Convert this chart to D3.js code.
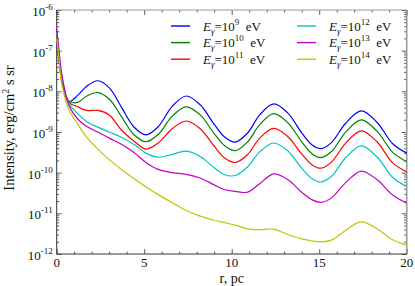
<!DOCTYPE html>
<html>
<head>
<meta charset="utf-8">
<script src="https://cdn.jsdelivr.net/npm/d3@7"></script>
<style>
  body { margin: 0; background: #fff; }
  svg text { font-family: 'Liberation Serif', 'DejaVu Serif', serif; fill: #111; }
</style>
</head>
<body>
<svg id="chart"></svg>
<script>
// radius in pc
const rValues = [0, 0.12, 0.3, 0.7, 1.2, 1.7, 2.35, 3.0, 3.7, 4.4, 5.1, 5.8, 6.6, 7.4, 8.2, 9.0, 9.6, 10.2, 10.9, 11.6, 12.4, 13.2, 14.0, 14.6, 15.1, 15.7, 16.5, 17.4, 18.3, 19.2, 20];

// log10 of intensity (erg/cm^2 s sr)
const logI_e9  = [-6.7, -7.2, -7.75, -8.25, -8.1, -7.88, -7.74, -7.91, -8.39, -8.87, -9.07, -8.87, -8.37, -8.115, -8.33, -8.81, -9.125, -9.25, -9.03, -8.58, -8.31, -8.53, -9.02, -9.32, -9.41, -9.26, -8.79, -8.48, -8.76, -9.29, -9.52];
const logI_e10 = [-6.65, -7.15, -7.75, -8.24, -8.27, -8.12, -8.03, -8.19, -8.62, -9.06, -9.24, -9.06, -8.61, -8.38, -8.58, -9.04, -9.34, -9.46, -9.25, -8.82, -8.55, -8.77, -9.24, -9.54, -9.63, -9.48, -9.01, -8.70, -8.98, -9.50, -9.73];
const logI_e11 = [-6.6, -7.1, -7.7, -8.27, -8.38, -8.47, -8.47, -8.58, -8.95, -9.22, -9.42, -9.27, -8.92, -8.73, -8.92, -9.35, -9.64, -9.75, -9.56, -9.15, -8.91, -9.11, -9.54, -9.81, -9.89, -9.74, -9.28, -8.97, -9.24, -9.76, -9.98];
const logI_e12 = [-6.55, -7.05, -7.7, -8.3, -8.55, -8.74, -8.88, -9.0, -9.13, -9.3, -9.52, -9.62, -9.55, -9.47, -9.6, -9.88, -10.05, -10.07, -9.86, -9.49, -9.27, -9.46, -9.89, -10.15, -10.23, -10.09, -9.64, -9.34, -9.61, -10.12, -10.34];
const logI_e13 = [-6.45, -6.95, -7.6, -8.35, -8.68, -8.86, -9.0, -9.15, -9.3, -9.5, -9.75, -9.92, -10.0, -10.04, -10.13, -10.3, -10.42, -10.46, -10.48, -10.27, -10.03, -10.17, -10.48, -10.67, -10.73, -10.62, -10.25, -9.96, -10.17, -10.55, -10.75];
const logI_e14 = [-6.7, -7.15, -7.85, -8.45, -8.8, -9.12, -9.42, -9.68, -9.92, -10.14, -10.35, -10.54, -10.74, -10.93, -11.07, -11.17, -11.23, -11.29, -11.38, -11.40, -11.39, -11.52, -11.63, -11.68, -11.70, -11.66, -11.42, -11.21, -11.38, -11.65, -11.78];

const energyExp = [9, 10, 11, 12, 13, 14];
const seriesLog = [logI_e9, logI_e10, logI_e11, logI_e12, logI_e13, logI_e14];
const colors = ["#0000ff", "#008000", "#ff0000", "#00c4c4", "#c400c4", "#c4c400"];

const xTicks = [0, 5, 10, 15, 20];
const yDecades = [-12, -11, -10, -9, -8, -7, -6];

const width = 415, height = 286;
const margin = {top: 10, right: 8.3, bottom: 32, left: 56.7};
const innerW = width - margin.left - margin.right;
const innerH = height - margin.top - margin.bottom;
const serif = "'Liberation Serif', 'DejaVu Serif', serif";

const svg = d3.select("#chart").attr("width", width).attr("height", height)
    .attr("font-family", serif);
const chart = svg.append("g").attr("transform", `translate(${margin.left},${margin.top})`);

const x = d3.scaleLinear().domain([0, 20]).range([0, innerW]);
const y = d3.scaleLog().domain([1e-12, 1e-6]).range([innerH, 0]);

const majorY = yDecades.map(e => Math.pow(10, e));
const minorY = [];
yDecades.slice(0, -1).forEach(e => {
    for (let k = 2; k <= 9; k++) minorY.push(k * Math.pow(10, e));
});
const minorX = d3.range(0, 21).filter(v => v % 5 !== 0);

// ticks (inward) on all four sides
function tickAxis(axis, vals, size, tr) {
    const g = chart.append("g").attr("transform", tr || null)
        .call(axis.tickValues(vals).tickSize(size).tickFormat(""));
    g.select(".domain").remove();
    g.selectAll("line").attr("stroke", "#333").attr("stroke-width", 0.8);
    return g;
}
tickAxis(d3.axisLeft(y), majorY, -5);
tickAxis(d3.axisLeft(y), minorY, -2.5);
tickAxis(d3.axisRight(y), majorY, -5, `translate(${innerW},0)`);
tickAxis(d3.axisRight(y), minorY, -2.5, `translate(${innerW},0)`);
tickAxis(d3.axisBottom(x), xTicks, -5, `translate(0,${innerH})`);
tickAxis(d3.axisBottom(x), minorX, -2.5, `translate(0,${innerH})`);
tickAxis(d3.axisTop(x), xTicks, -5);
tickAxis(d3.axisTop(x), minorX, -2.5);

// frame
chart.append("line").attr("x1", 0).attr("x2", innerW).attr("y1", 0).attr("y2", 0)
    .attr("stroke", "#999").attr("stroke-width", 1.2);
chart.append("line").attr("x1", innerW).attr("x2", innerW).attr("y1", 0).attr("y2", innerH)
    .attr("stroke", "#999").attr("stroke-width", 1.6);
chart.append("line").attr("x1", 0).attr("x2", 0).attr("y1", 0).attr("y2", innerH)
    .attr("stroke", "#333").attr("stroke-width", 1);
chart.append("line").attr("x1", 0).attr("x2", innerW).attr("y1", innerH).attr("y2", innerH)
    .attr("stroke", "#333").attr("stroke-width", 1);

// x tick labels
chart.selectAll(".xlab").data(xTicks).join("text")
    .attr("x", d => x(d)).attr("y", innerH + 13)
    .attr("text-anchor", "middle").attr("font-size", 13)
    .text(d => d);

// y tick labels 10^n
const ylab = chart.selectAll(".ylab").data(yDecades).join("text")
    .attr("x", -4).attr("y", d => y(Math.pow(10, d)) + 6)
    .attr("text-anchor", "end").attr("font-size", 13);
ylab.append("tspan").text("10");
ylab.append("tspan").attr("dy", -6).attr("font-size", 9).text(d => "-" + (-d));

// axis titles
svg.append("text")
    .attr("x", margin.left + innerW / 2).attr("y", 283)
    .attr("text-anchor", "middle").attr("font-size", 14)
    .text("r, pc");

const yt = svg.append("text")
    .attr("transform", `translate(14,${margin.top + innerH / 2 - 4}) rotate(-90)`)
    .attr("text-anchor", "middle").attr("font-size", 14.5);
yt.append("tspan").text("Intensity,  erg/cm");
yt.append("tspan").attr("dy", -5).attr("font-size", 10).text("2");
yt.append("tspan").attr("dy", 5).text(" s sr");

// curves
const line = d3.line()
    .x(d => x(d.r))
    .y(d => y(d.v))
    .curve(d3.curveCatmullRom.alpha(0.5));

seriesLog.forEach((s, i) => {
    const pts = rValues.map((r, j) => ({r: r, v: Math.pow(10, s[j])}));
    chart.append("path")
        .attr("d", line(pts))
        .attr("fill", "none")
        .attr("stroke", colors[i])
        .attr("stroke-width", 1.2);
});

// legend
const legend = svg.append("g");
energyExp.forEach((e, i) => {
    const col = Math.floor(i / 3), row = i % 3;
    const lx = col === 0 ? 171 : 297;
    const ly = 26 + row * 16.6;
    legend.append("line")
        .attr("x1", lx).attr("x2", lx + 19).attr("y1", ly).attr("y2", ly)
        .attr("stroke", colors[i]).attr("stroke-width", 1.4);
    const t = legend.append("text")
        .attr("x", lx + 32).attr("y", ly + 4.5).attr("font-size", 13);
    t.append("tspan").attr("font-style", "italic").text("E");
    t.append("tspan").attr("font-style", "italic").attr("font-size", 9).attr("dy", 3).text("γ");
    t.append("tspan").attr("dy", -3).text("=10");
    t.append("tspan").attr("font-size", 9).attr("dy", -6).text(e);
    t.append("tspan").attr("dy", 6).text("\u00a0 eV");
});
</script>
</body>
</html>
